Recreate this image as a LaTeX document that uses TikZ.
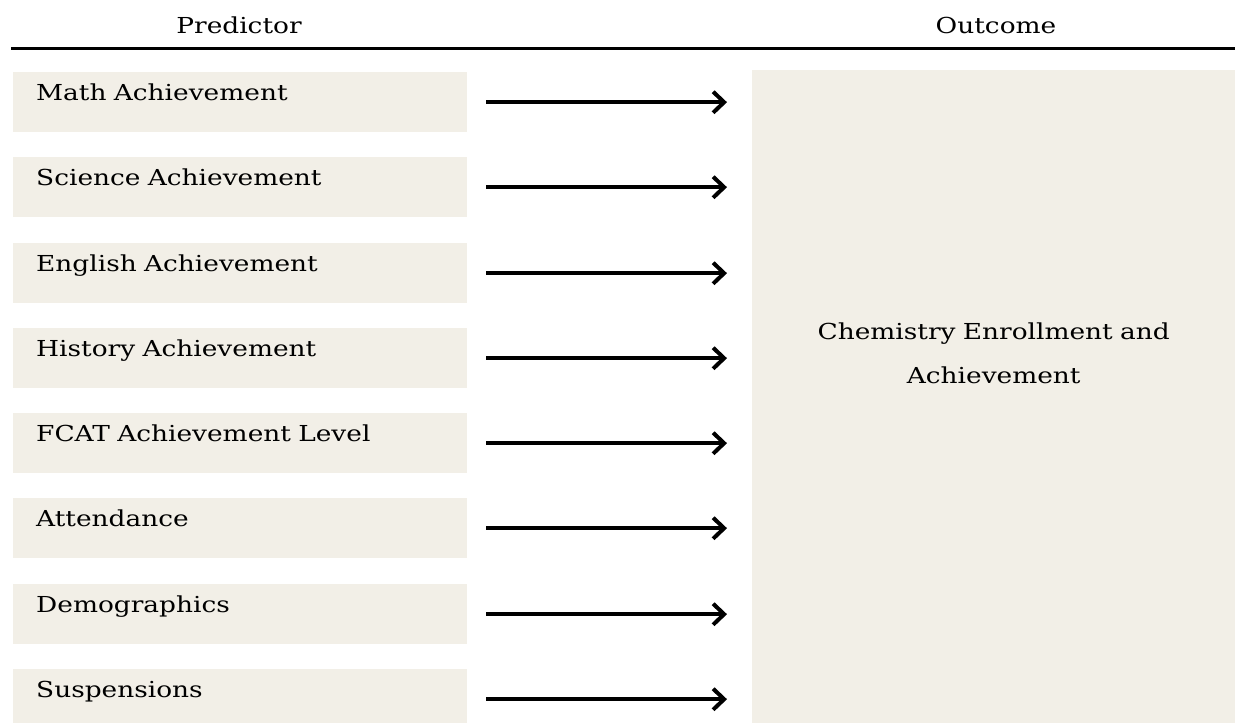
\documentclass[tikz,border=0pt]{standalone}
\usepackage{fontspec}
\setmainfont[FakeStretch=1.2]{DejaVu Serif}
\usetikzlibrary{arrows.meta}
\definecolor{boxfill}{RGB}{242,239,231}

\begin{document}
\begin{tikzpicture}[x=1pt,y=-1pt]

      \tikzset{predbox/.style={fill=boxfill, anchor=north west, inner xsep=23pt, inner ysep=0pt, text width=408pt, align=left, text height=28pt, text depth=32pt, font=\fontsize{22}{26}\selectfont},
               outbox/.style={fill=boxfill, anchor=north west, inner sep=0pt, text width=483pt, align=center, text height=269pt, text depth=384pt, font=\fontsize{22}{44}\selectfont},
               head/.style={anchor=base, font=\fontsize{22}{26}\selectfont},
               link/.style={line width=4pt, -{Straight Barb[length=11pt,width=21pt]}, shorten <=19pt, shorten >=25pt}}
      \clip (0,0) rectangle (1235,723);
%% Header
        \node[head] (hpred) at (239,33) {Predictor};
        \node[head] (hout) at (996,33) {Outcome};
        \draw[line width=2.6pt] (11,48.5) -- (1235,48.5);
%% Predictors
        \node[predbox] (p1) at (13,72) {Math Achievement};
        \node[predbox] (p2) at (13,157) {Science Achievement};
        \node[predbox] (p3) at (13,243) {English Achievement};
        \node[predbox] (p4) at (13,328) {History Achievement};
        \node[predbox] (p5) at (13,413) {FCAT Achievement Level};
        \node[predbox] (p6) at (13,498) {Attendance};
        \node[predbox] (p7) at (13,584) {Demographics};
        \node[predbox] (p8) at (13,669) {Suspensions};
%% Outcome
        \node[outbox] (out) at (752,70) {Chemistry Enrollment and\\Achievement};
%Arrows
        \draw[link] (p1.east) -- (p1.east -| out.west);
        \draw[link] (p2.east) -- (p2.east -| out.west);
        \draw[link] (p3.east) -- (p3.east -| out.west);
        \draw[link] (p4.east) -- (p4.east -| out.west);
        \draw[link] (p5.east) -- (p5.east -| out.west);
        \draw[link] (p6.east) -- (p6.east -| out.west);
        \draw[link] (p7.east) -- (p7.east -| out.west);
        \draw[link] (p8.east) -- (p8.east -| out.west);

\end{tikzpicture}
\end{document}
